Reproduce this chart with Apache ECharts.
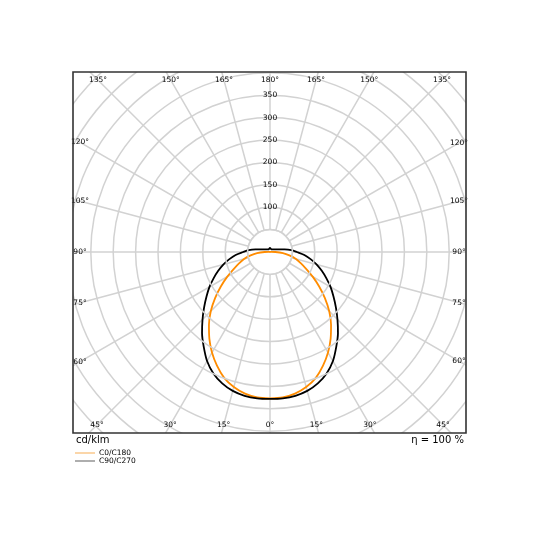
<!DOCTYPE html>
<html>
<head>
<meta charset="utf-8">
<script src="https://cdn.jsdelivr.net/npm/echarts@6/dist/echarts.min.js"></script>
<style>
  html, body { margin: 0; padding: 0; background: #fff; }
  #chart { width: 540px; height: 540px; }
</style>
</head>
<body>
<div id="chart"></div>
<script>
// gamma angles (0 = nadir, 180 = zenith), cd/klm values
const gammaAngles = [0, 5, 10, 15, 20, 25, 30, 35, 40, 45, 50, 55, 60, 65, 70, 75, 80, 85, 90,
  95, 100, 105, 110, 115, 120, 125, 130, 135, 140, 145, 150, 155, 160, 165, 170, 175, 180];
const c0c180 = [327, 326, 321, 312, 299, 280, 259, 236, 212, 187, 160, 134, 110, 89, 73, 60, 44, 29, 12,
  3, 0, 0, 0, 0, 0, 0, 0, 0, 0, 0, 0, 0, 0, 0, 0, 0, 0];
const c90c270 = [328, 328, 326, 321, 312, 299, 281, 258, 236, 213, 192, 173, 156, 139, 123, 108, 92, 77, 60,
  48, 33, 22, 17, 14, 12, 10, 9, 8, 8, 7, 7, 7, 7, 8, 8, 9, 9];
const seriesNames = ['C0/C180', 'C90/C270'];
const angleTicks = [0, 15, 30, 45, 60, 75, 90, 105, 120, 135, 150, 165, 180];
const radialLabels = [100, 150, 200, 250, 300, 350];

// layout
const cx = 270, cy = 252;
const pxPerUnit = 0.448;
const rInner = 50, rMax = 600;
const frame = { left: 73, top: 72, right: 466, bottom: 433 };
const labelBox = { left: 80, top: 80, right: 459, bottom: 425 };
const gridColor = '#d2d2d2';
const font = 'DejaVu Sans';

// angle axis runs clockwise from the top, so nadir is 180
const toPolarData = (values) => {
  const pts = [];
  gammaAngles.forEach((g, i) => pts.push([values[i], 180 + g]));
  for (let i = gammaAngles.length - 1; i >= 0; i--) {
    pts.push([values[i], 180 - gammaAngles[i]]);
  }
  return pts;
};

// angle labels sit where each ray meets the (inset) frame
const angleLabelGraphics = [];
angleTicks.forEach(g => {
  const sides = (g === 0 || g === 180) ? [1] : [-1, 1];
  sides.forEach(side => {
    const rad = g * Math.PI / 180;
    const dx = side * Math.sin(rad), dy = Math.cos(rad);
    let t = Infinity;
    if (Math.abs(dx) > 1e-9) t = Math.min(t, (dx > 0 ? labelBox.right - cx : cx - labelBox.left) / Math.abs(dx));
    if (Math.abs(dy) > 1e-9) t = Math.min(t, (dy > 0 ? labelBox.bottom - cy : cy - labelBox.top) / Math.abs(dy));
    angleLabelGraphics.push({
      type: 'text',
      x: cx + t * dx,
      y: cy + t * dy,
      z: 60,
      style: {
        text: g + '°', fontSize: 7.5, fontFamily: font, fill: '#000',
        align: 'center', verticalAlign: 'middle'
      }
    });
  });
});

const masks = [
  [0, 0, 540, frame.top],
  [0, frame.bottom, 540, 540 - frame.bottom],
  [0, frame.top, frame.left, frame.bottom - frame.top],
  [frame.right, frame.top, 540 - frame.right, frame.bottom - frame.top]
].map(([x, y, w, h]) => ({
  type: 'rect', z: 50, silent: true,
  shape: { x, y, width: w, height: h },
  style: { fill: '#fff' }
}));

const chart = echarts.init(document.getElementById('chart'), null, { renderer: 'canvas' });

const option = {
  animation: false,
  backgroundColor: '#fff',
  polar: {
    center: [cx, cy],
    radius: [0, rMax * pxPerUnit]
  },
  angleAxis: {
    type: 'value',
    min: 0,
    max: 360,
    interval: 15,
    startAngle: 90,
    clockwise: true,
    z: 0,
    axisLine: { show: false },
    axisTick: { show: false },
    axisLabel: { show: false },
    splitLine: { show: true, lineStyle: { color: gridColor, width: 1.5 } }
  },
  radiusAxis: {
    type: 'value',
    min: 0,
    max: rMax,
    interval: 50,
    z: 10,
    axisLine: { show: false },
    axisTick: { show: false },
    axisLabel: {
      show: true,
      margin: 0,
      align: 'center',
      verticalAlign: 'middle',
      fontSize: 7.5,
      fontFamily: font,
      color: '#000',
      formatter: v => radialLabels.includes(v) ? String(v) : ''
    },
    splitLine: { show: true, lineStyle: { color: gridColor, width: 1.5 } }
  },
  legend: {
    z: 70,
    orient: 'vertical',
    left: 75,
    top: 449,
    padding: 0,
    itemGap: 0,
    itemWidth: 20,
    itemHeight: 1.4,
    icon: 'rect',
    textStyle: { fontSize: 7.5, fontFamily: font, color: '#000', lineHeight: 8, padding: [0, 0, 0, -1] },
    data: [
      { name: seriesNames[0], itemStyle: { color: '#f9c585' } },
      { name: seriesNames[1], itemStyle: { color: '#8c8c8c' } }
    ]
  },
  graphic: [
    // rays stop at the innermost ring
    {
      type: 'circle', z: 1, silent: true,
      shape: { cx, cy, r: rInner * pxPerUnit },
      style: { fill: '#fff', stroke: gridColor, lineWidth: 1.5 }
    },
    ...masks,
    {
      type: 'rect', z: 61, silent: true,
      shape: { x: frame.left, y: frame.top, width: frame.right - frame.left, height: frame.bottom - frame.top },
      style: { fill: null, stroke: '#333', lineWidth: 1.6 }
    },
    ...angleLabelGraphics,
    {
      type: 'text', z: 61, x: 76, y: 440,
      style: { text: 'cd/klm', fontSize: 10, fontFamily: font, fill: '#000', verticalAlign: 'middle' }
    },
    {
      type: 'text', z: 61, x: 464, y: 440.5,
      style: { text: 'η = 100 %', fontSize: 10, fontFamily: font, fill: '#000', align: 'right', verticalAlign: 'middle' }
    }
  ],
  series: [
    {
      name: seriesNames[0],
      type: 'line',
      coordinateSystem: 'polar',
      data: toPolarData(c0c180),
      showSymbol: false,
      smooth: 0.3,
      clip: false,
      z: 3,
      lineStyle: { color: '#ff8c00', width: 1.8 },
      itemStyle: { color: '#ff8c00' }
    },
    {
      name: seriesNames[1],
      type: 'line',
      coordinateSystem: 'polar',
      data: toPolarData(c90c270),
      showSymbol: false,
      smooth: 0.3,
      clip: false,
      z: 4,
      lineStyle: { color: '#000', width: 1.8 },
      itemStyle: { color: '#000' }
    }
  ]
};

chart.setOption(option);
</script>
</body>
</html>
